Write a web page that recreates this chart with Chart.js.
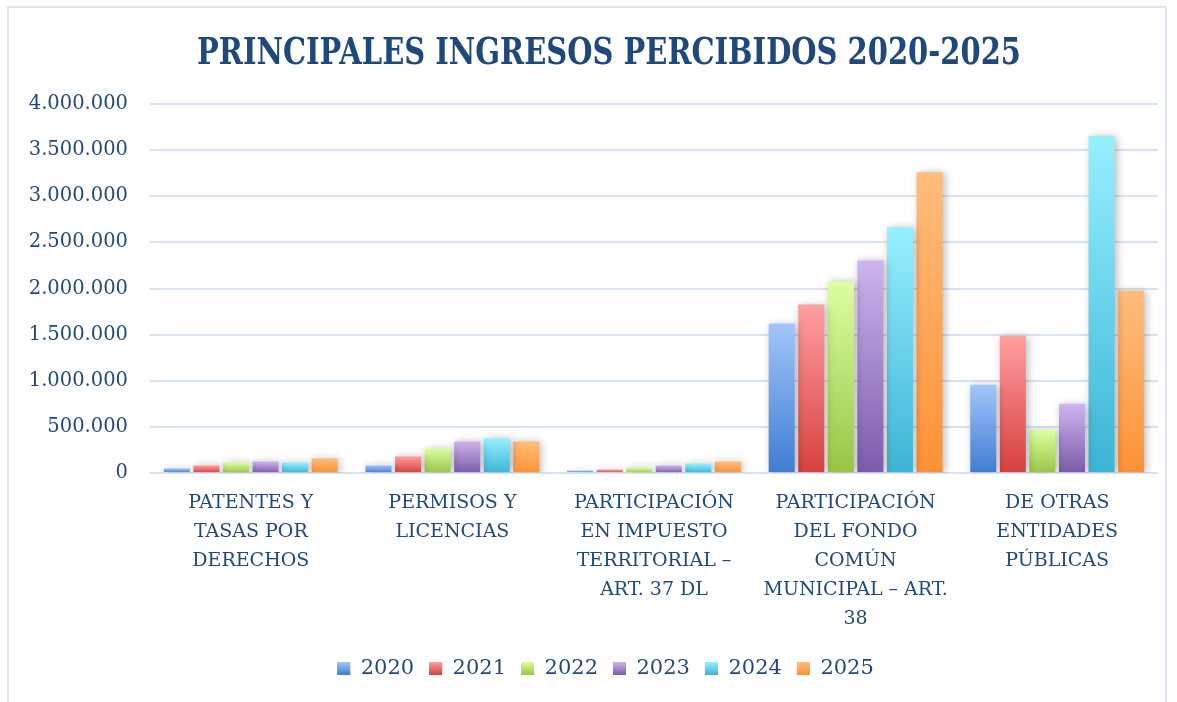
<!DOCTYPE html>
<html>
<head>
<meta charset="utf-8">
<script src="https://cdn.jsdelivr.net/npm/chart.js@4.4.1/dist/chart.umd.min.js"></script>
<style>
  body { margin: 0; background: #fff; }
  #marco { position: absolute; left: 7px; top: 6px; width: 1156px; height: 720px; border: 2px solid #dce6f2; }
</style>
</head>
<body>
<div id="marco"><canvas id="graficoIngresos" width="1156" height="694"></canvas></div>
<script>
const titulo = "PRINCIPALES INGRESOS PERCIBIDOS 2020-2025";

const categorias = [
  ["PATENTES Y", "TASAS POR", "DERECHOS"],
  ["PERMISOS Y", "LICENCIAS"],
  ["PARTICIPACIÓN", "EN IMPUESTO", "TERRITORIAL –", "ART. 37 DL"],
  ["PARTICIPACIÓN", "DEL FONDO", "COMÚN", "MUNICIPAL – ART.", "38"],
  ["DE OTRAS", "ENTIDADES", "PÚBLICAS"],
];

const anios = ["2020", "2021", "2022", "2023", "2024", "2025"];

const valores2020 = [50000, 82000, 27000, 1620000, 957000];
const valores2021 = [82000, 179000, 38000, 1826000, 1489000];
const valores2022 = [114000, 266000, 60000, 2076000, 467000];
const valores2023 = [125000, 342000, 82000, 2304000, 750000];
const valores2024 = [114000, 375000, 103000, 2663000, 3652000];
const valores2025 = [158000, 342000, 125000, 3261000, 1978000];
const series = [valores2020, valores2021, valores2022, valores2023, valores2024, valores2025];

const colorArriba = ["#a2c5f9", "#ffa09f", "#ddffa0", "#cdb5ee", "#96f0ff", "#ffbd7d"];
const colorAbajo = ["#3f7dd1", "#d63f3f", "#97c545", "#7b5baa", "#3cb4d5", "#ff9135"];
const colorMedio = ["#6a9ee5", "#ee6b6b", "#bde271", "#a488cf", "#67d3ec", "#ffa558"];

const azulTexto = "#1f497d";

function formatoMiles(v) {
  return String(v).replace(/\B(?=(\d{3})+(?!\d))/g, ".");
}

function degradado(i) {
  return (ctx) => {
    const chart = ctx.chart;
    if (!chart.chartArea || ctx.type !== "data") return colorMedio[i];
    const y = chart.scales.y;
    const arriba = y.getPixelForValue(ctx.raw);
    const base = y.getPixelForValue(0);
    const g = chart.ctx.createLinearGradient(0, arriba, 0, base);
    g.addColorStop(0, colorArriba[i]);
    g.addColorStop(1, colorAbajo[i]);
    return g;
  };
}

const sombra = {
  id: "sombra",
  beforeDatasetsDraw(chart) {
    const c = chart.ctx;
    c.save();
    c.shadowColor = "rgba(0,0,0,0.28)";
    c.shadowBlur = 8;
    c.shadowOffsetX = 2;
    c.shadowOffsetY = 1;
  },
  afterDatasetsDraw(chart) {
    chart.ctx.restore();
  },
};

// title drawn by hand so it can be narrowed like the original Cambria
const tituloPlugin = {
  id: "tituloPlugin",
  afterDraw(chart) {
    const c = chart.ctx;
    c.save();
    c.font = "bold 38px 'DejaVu Serif'";
    c.fillStyle = azulTexto;
    c.textAlign = "center";
    c.textBaseline = "middle";
    const ancho = c.measureText(titulo).width;
    c.translate(chart.width / 2 + 22, 46);
    c.scale(824 / ancho, 1);
    c.fillText(titulo, 0, 0);
    c.restore();
  },
};

// nudge the legend a bit right, like the original, and fade its squares
const leyendaDegradado = {
  id: "leyendaDegradado",
  afterLayout(chart) {
    const leyenda = chart.legend;
    if (!leyenda) return;
    leyenda.left += 22;
    leyenda.right += 22;
    (leyenda.legendHitBoxes || []).forEach((caja) => { caja.left += 22; });
  },
  afterDraw(chart) {
    const leyenda = chart.legend;
    if (!leyenda || !leyenda.legendHitBoxes) return;
    const c = chart.ctx;
    leyenda.legendHitBoxes.forEach((caja, i) => {
      const alto = 13;
      const y0 = caja.top + (caja.height - alto) / 2;
      const g = c.createLinearGradient(0, y0, 0, y0 + alto);
      g.addColorStop(0, colorArriba[i]);
      g.addColorStop(1, colorAbajo[i]);
      c.fillStyle = g;
      c.fillRect(caja.left, y0, 13, alto);
    });
  },
};

new Chart(document.getElementById("graficoIngresos"), {
  type: "bar",
  data: {
    labels: categorias,
    datasets: anios.map((a, i) => ({
      label: a,
      data: series[i],
      backgroundColor: degradado(i),
      borderWidth: 0,
      categoryPercentage: 0.88,
      barPercentage: 0.88,
    })),
  },
  options: {
    responsive: false,
    animation: false,
    layout: { padding: { top: 96, right: 7, bottom: 13, left: 0 } },
    plugins: {
      title: { display: false },
      tooltip: { enabled: false },
      legend: {
        position: "bottom",
        labels: {
          color: azulTexto,
          font: { family: "'DejaVu Serif'", size: 21 },
          boxWidth: 13,
          boxHeight: 13,
          padding: 15,
          generateLabels(chart) {
            return anios.map((a, i) => ({
              text: a,
              fillStyle: colorMedio[i],
              strokeStyle: colorMedio[i],
              lineWidth: 0,
              fontColor: azulTexto,
              datasetIndex: i,
            }));
          },
        },
      },
    },
    scales: {
      x: {
        grid: { display: false },
        border: { display: false },
        ticks: {
          color: azulTexto,
          font: { family: "'DejaVu Serif'", size: 19, lineHeight: 1.52 },
          maxRotation: 0,
          autoSkip: false,
          padding: 8,
        },
        afterFit(s) { s.height = 170; },
      },
      y: {
        min: 0,
        max: 4000000,
        border: { display: false },
        grid: { color: "#d9e4f3", lineWidth: 2, drawTicks: false },
        ticks: {
          stepSize: 500000,
          color: azulTexto,
          font: { family: "'DejaVu Serif'", size: 19.5 },
          padding: 22,
          callback: (v) => formatoMiles(v),
        },
        afterFit(s) { s.width = 141; },
      },
    },
  },
  plugins: [sombra, tituloPlugin, leyendaDegradado],
});
</script>
</body>
</html>
